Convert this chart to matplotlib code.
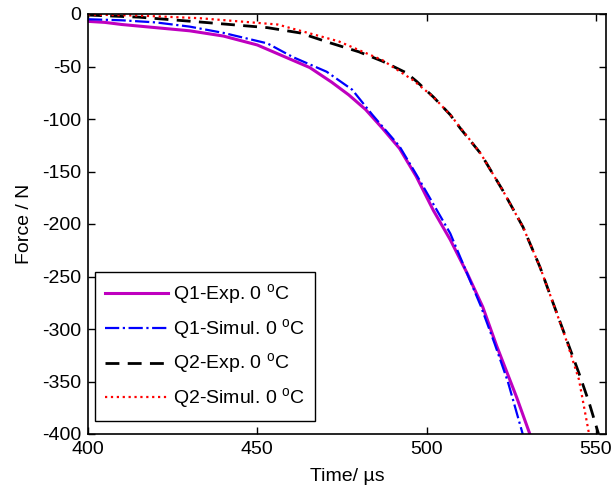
"""
Force vs time for Q1/Q2 at 0 C, experiment against simulation
"""

import matplotlib
matplotlib.use('Agg')
import matplotlib.pyplot as plt

#---------------------------------------------------------------------------------------------------
# Data
#---------------------------------------------------------------------------------------------------

# Q1 experiment
t_q1_exp = [400, 405, 410, 420, 430, 440, 450, 459, 465.5, 472, 477, 482, 487, 492, 497,
            502, 507, 512, 516.6, 520.7, 526.6, 530.5]
f_q1_exp = [-7, -8, -10, -13, -16, -21, -29.5, -42, -51, -65, -77, -91, -109, -128, -155,
            -187, -215, -247, -279, -316, -365, -400]

# Q1 simulation
t_q1_sim = [400, 410, 420, 430, 435, 440, 453, 460.5, 470.5, 478, 484, 492, 497, 507, 516,
            520, 524, 528.4]
f_q1_sim = [-5, -6, -8, -12, -15, -18, -28, -41, -55, -72, -96, -126, -153, -209, -278,
            -313, -350, -400]

# Q2 experiment
t_q2_exp = [400, 415, 433, 453, 462.6, 472, 480, 487, 494, 497, 502, 507, 510, 516, 522.5,
            528.5, 533.5, 537, 541, 545, 548, 550.8]
f_q2_exp = [-1, -3, -7.6, -13, -18, -28, -36, -45, -56, -64, -79, -96, -109, -133, -168,
            -203, -241, -272, -307, -342, -370, -400]

# Q2 simulation
t_q2_sim = [400, 415, 433, 456, 474, 487, 496, 502, 507, 516, 522.5, 528.5, 533.5, 537, 541,
            545, 548]
f_q2_sim = [-0.5, -1.5, -4, -10, -26, -44, -63, -79, -96, -133, -168, -203, -241, -272, -308,
            -348, -400]

labels = [r'Q1-Exp. 0 $^\mathregular{o}$C', r'Q1-Simul. 0 $^\mathregular{o}$C',
          r'Q2-Exp. 0 $^\mathregular{o}$C', r'Q2-Simul. 0 $^\mathregular{o}$C']

xticks = [400, 450, 500, 550]
yticks = [0, -50, -100, -150, -200, -250, -300, -350, -400]

#---------------------------------------------------------------------------------------------------
# Plot
#---------------------------------------------------------------------------------------------------

plt.rcParams['font.family'] = ['Liberation Sans', 'DejaVu Sans']
plt.rcParams['font.size'] = 14
plt.rcParams['axes.unicode_minus'] = False

fig = plt.figure(figsize=(6.16, 4.91), dpi=100)
ax = fig.add_axes([88/616, 1 - 434/491, (606 - 88)/616, (434 - 14)/491])

ax.plot(t_q1_exp, f_q1_exp, '-', c='#BF00BF', lw=2.2, label=labels[0])
ax.plot(t_q1_sim, f_q1_sim, '-.', c='#0000FF', lw=1.6, label=labels[1])
ax.plot(t_q2_exp, f_q2_exp, '--', c='k', lw=2.0, dashes=(5, 3), label=labels[2])
ax.plot(t_q2_sim, f_q2_sim, ':', c='#FF0000', lw=1.6, label=labels[3])

ax.set_xlim(400, 553)
ax.set_ylim(-400, 0)
ax.set_xticks(xticks)
ax.set_yticks(yticks)
ax.tick_params(direction='in', top=True, right=True, length=5, width=1, pad=5)
for sp in ax.spines.values():
    sp.set_linewidth(1.2)

ax.set_xlabel('Time/ \u00b5s', labelpad=7)
ax.set_ylabel('Force / N', labelpad=6)

leg = ax.legend(loc='lower left', bbox_to_anchor=(0.0135, 0.031), borderaxespad=0,
                fancybox=False, framealpha=1, edgecolor='k', handlelength=3.25,
                handletextpad=0.26, labelspacing=0.52, borderpad=0.5)
leg.get_frame().set_linewidth(1.0)

fig.savefig('out.png', dpi=100)
